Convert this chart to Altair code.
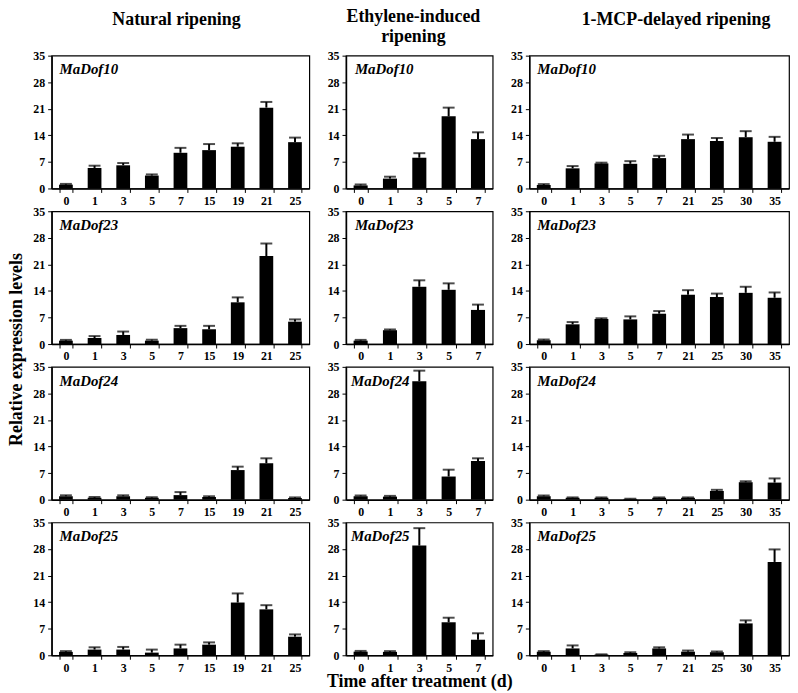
import altair as alt
import pandas as pd

FONT = "Liberation Serif"

treatment_titles = ["Natural ripening", ["Ethylene-induced", "ripening"], "1-MCP-delayed ripening"]
genes = ["MaDof10", "MaDof23", "MaDof24", "MaDof25"]

days_natural = ["0", "1", "3", "5", "7", "15", "19", "21", "25"]
days_ethylene = ["0", "1", "3", "5", "7"]
days_mcp = ["0", "1", "3", "5", "7", "21", "25", "30", "35"]

# Natural ripening
nat_dof10 = [1.0, 5.4, 6.1, 3.4, 9.4, 10.1, 11.0, 21.3, 12.2]
nat_dof10_err = [0.2, 0.6, 0.6, 0.3, 1.3, 1.6, 0.9, 1.5, 1.2]
nat_dof23 = [0.9, 1.6, 2.4, 0.9, 4.2, 3.9, 11.0, 23.2, 5.9]
nat_dof23_err = [0.2, 0.5, 0.9, 0.25, 0.6, 0.9, 1.3, 3.3, 0.6]
nat_dof24 = [0.9, 0.5, 0.9, 0.5, 1.2, 0.7, 7.8, 9.6, 0.45]
nat_dof24_err = [0.25, 0.2, 0.25, 0.15, 0.8, 0.2, 0.9, 1.3, 0.15]
nat_dof25 = [0.9, 1.5, 1.5, 0.7, 1.8, 2.8, 13.9, 12.1, 4.9]
nat_dof25_err = [0.2, 0.6, 0.7, 0.8, 1.0, 0.6, 2.4, 1.1, 0.6]

# Ethylene-induced ripening
eth_dof10 = [0.8, 2.6, 8.1, 19.0, 13.0]
eth_dof10_err = [0.25, 0.5, 1.2, 2.3, 1.8]
eth_dof23 = [0.9, 3.65, 15.1, 14.3, 9.0]
eth_dof23_err = [0.2, 0.2, 1.7, 1.7, 1.4]
eth_dof24 = [0.9, 0.8, 31.2, 6.1, 10.2]
eth_dof24_err = [0.2, 0.2, 2.8, 1.8, 0.7]
eth_dof25 = [0.95, 0.9, 28.9, 8.7, 4.1]
eth_dof25_err = [0.2, 0.2, 4.6, 1.2, 1.7]

# 1-MCP-delayed ripening
mcp_dof10 = [0.9, 5.3, 6.6, 6.5, 8.0, 13.0, 12.5, 13.5, 12.3]
mcp_dof10_err = [0.25, 0.6, 0.2, 0.7, 0.6, 1.2, 0.8, 1.6, 1.3]
mcp_dof23 = [1.0, 5.2, 6.6, 6.5, 8.0, 13.0, 12.4, 13.5, 12.2]
mcp_dof23_err = [0.2, 0.6, 0.2, 0.8, 0.7, 1.2, 0.9, 1.6, 1.4]
mcp_dof24 = [0.9, 0.5, 0.5, 0.2, 0.5, 0.5, 2.3, 4.6, 4.5]
mcp_dof24_err = [0.2, 0.1, 0.1, 0.05, 0.1, 0.1, 0.3, 0.25, 1.1]
mcp_dof25 = [0.9, 1.8, 0.2, 0.6, 1.8, 0.95, 0.8, 8.4, 24.6]
mcp_dof25_err = [0.2, 0.8, 0.05, 0.2, 0.3, 0.3, 0.2, 0.8, 3.3]

y_ticks = [0, 7, 14, 21, 28, 35]

PANEL_H = 134


def panel(days, vals, errs, gene, width, label_x=8, title=None, title_dx=0,
          title_offset=10, title_lh=None, x_title=None):
    df = pd.DataFrame({"day": days, "val": vals, "err": errs})
    df["top"] = df["val"] + df["err"]
    xscale = alt.Scale(paddingInner=0.52, paddingOuter=0.26)
    xaxis_kwargs = dict(labelAngle=0, tickBand="extent", labelPadding=3)
    if x_title is not None:
        xaxis = alt.Axis(title=x_title, titlePadding=0, **xaxis_kwargs)
    else:
        xaxis = alt.Axis(title=None, **xaxis_kwargs)
    x = alt.X("day:N", sort=days, scale=xscale, axis=xaxis)
    yscale = alt.Scale(domain=[0, 35], nice=False)
    yaxis = alt.Axis(values=y_ticks, title=None, labelOverlap=False, labelFlush=False)
    base = alt.Chart(df)
    bars = base.mark_bar(color="black").encode(
        x=x, y=alt.Y("val:Q", scale=yscale, axis=yaxis))
    rules = base.mark_rule(color="black", strokeWidth=2).encode(
        x=alt.X("day:N", sort=days, scale=xscale, axis=xaxis),
        y=alt.Y("val:Q", scale=yscale, axis=yaxis), y2="top:Q")
    caps = base.mark_tick(color="black", thickness=2, size=12).encode(
        x=alt.X("day:N", sort=days, scale=xscale, axis=xaxis),
        y=alt.Y("top:Q", scale=yscale, axis=yaxis))
    label = alt.Chart(pd.DataFrame({"g": [gene]})).mark_text(
        font=FONT, fontWeight="bold", fontStyle="italic", fontSize=15,
        align="left", baseline="alphabetic", color="black"
    ).encode(x=alt.value(label_x), y=alt.value(19), text="g:N")
    ch = alt.layer(bars, rules, caps, label).properties(width=width, height=PANEL_H)
    if title is not None:
        tp = dict(text=title, anchor="middle", frame="group", dx=title_dx, offset=title_offset)
        if title_lh is not None:
            tp["lineHeight"] = title_lh
        ch = ch.properties(title=alt.TitleParams(**tp))
    return ch


nat = [(nat_dof10, nat_dof10_err), (nat_dof23, nat_dof23_err),
       (nat_dof24, nat_dof24_err), (nat_dof25, nat_dof25_err)]
eth = [(eth_dof10, eth_dof10_err), (eth_dof23, eth_dof23_err),
       (eth_dof24, eth_dof24_err), (eth_dof25, eth_dof25_err)]
mcp = [(mcp_dof10, mcp_dof10_err), (mcp_dof23, mcp_dof23_err),
       (mcp_dof24, mcp_dof24_err), (mcp_dof25, mcp_dof25_err)]

panels = []
for i, gene in enumerate(genes):
    top = i == 0
    panels.append(panel(days_natural, nat[i][0], nat[i][1], gene, 260,
                        title=treatment_titles[0] if top else None,
                        title_dx=-4, title_offset=21))
    panels.append(panel(days_ethylene, eth[i][0], eth[i][1], gene, 148,
                        label_x=9 if i < 2 else 5,
                        title=treatment_titles[1] if top else None,
                        title_dx=-6, title_offset=4, title_lh=20,
                        x_title="Time after treatment (d)" if i == 3 else None))
    panels.append(panel(days_mcp, mcp[i][0], mcp[i][1], gene, 262,
                        title=treatment_titles[2] if top else None,
                        title_dx=17, title_offset=21))

chart = alt.concat(
    *panels, columns=3, spacing={"row": 23, "column": 37}, bounds="flush",
    title=alt.TitleParams(text="Relative expression levels", orient="left",
                          anchor="middle", frame="bounds", offset=6)
).properties(
    padding={"left": 0, "top": -4, "right": 0, "bottom": 0}
).configure_axis(
    labelFont=FONT, labelFontWeight="bold", labelFontSize=12, labelColor="black",
    tickColor="black", domainColor="black", domainWidth=1.5, tickSize=4,
    labelPadding=3, grid=False, titleFont=FONT, titleFontWeight="bold",
    titleFontSize=18, titleColor="black"
).configure_axisY(
    labelOverlap=False
).configure_view(
    stroke="black", strokeWidth=1.2
).configure_title(
    font=FONT, fontWeight="bold", fontSize=18, color="black"
)

chart.save("out.html", embed_options={"renderer": "svg", "actions": False})
